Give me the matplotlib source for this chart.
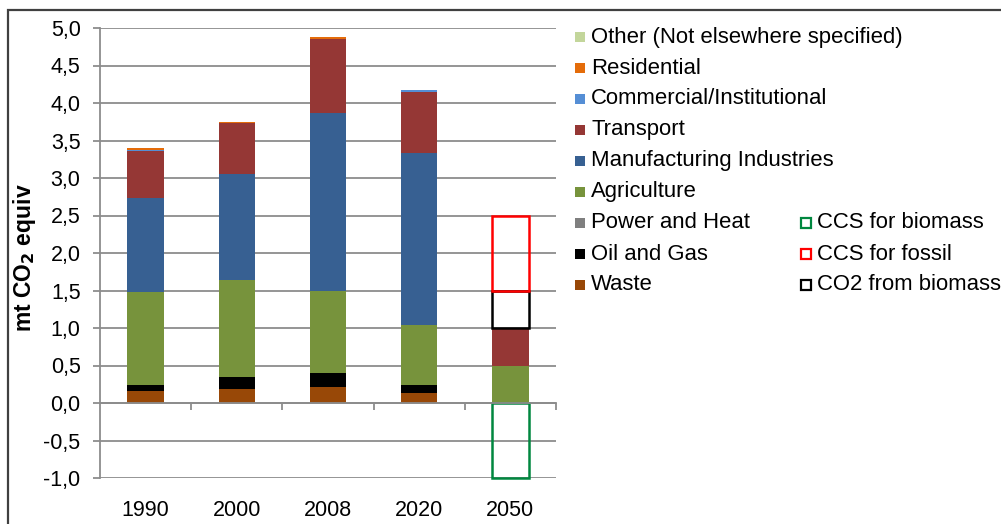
import matplotlib
matplotlib.use("Agg")
import matplotlib.pyplot as plt
import numpy as np
from matplotlib.patches import Rectangle
from matplotlib.ticker import FuncFormatter, MultipleLocator

plt.rcParams["font.family"] = ["Liberation Sans", "DejaVu Sans"]

# Emissions by sector, mt CO2 equivalent
years = ["1990", "2000", "2008", "2020", "2050"]
waste = [0.16, 0.19, 0.21, 0.13, 0.0]
oil_and_gas = [0.08, 0.16, 0.19, 0.115, 0.0]
power_and_heat = [0.0, 0.0, 0.0, 0.0, 0.0]
agriculture = [1.245, 1.295, 1.10, 0.795, 0.5]
manufacturing = [1.255, 1.405, 2.37, 2.29, 0.0]
transport = [0.62, 0.68, 0.98, 0.82, 0.5]
commercial = [0.015, 0.003, 0.01, 0.02, 0.0]
residential = [0.02, 0.02, 0.015, 0.0, 0.0]
other = [0.0, 0.0, 0.0, 0.0, 0.0]

# 2050 scenario components (drawn as outlined boxes)
co2_from_biomass = [0.0, 0.0, 0.0, 0.0, 0.5]
ccs_for_fossil = [0.0, 0.0, 0.0, 0.0, 1.0]
ccs_for_biomass = [0.0, 0.0, 0.0, 0.0, -1.0]

stack = [
    ("Waste", waste, "#984807"),
    ("Oil and Gas", oil_and_gas, "#000000"),
    ("Power and Heat", power_and_heat, "#7F7F7F"),
    ("Agriculture", agriculture, "#77933C"),
    ("Manufacturing Industries", manufacturing, "#376092"),
    ("Transport", transport, "#953735"),
    ("Commercial/Institutional", commercial, "#558ED5"),
    ("Residential", residential, "#E46C0A"),
    ("Other (Not elsewhere specified)", other, "#C3D69B"),
]
outlines = [
    ("CCS for biomass", "#00873F"),
    ("CCS for fossil", "#FF0000"),
    ("CO2 from biomass", "#000000"),
]

FS = 15.5
FS_LEG = 15.9
W, H = 1001, 524
fig = plt.figure(figsize=(W / 100, H / 100), dpi=100)
ax = fig.add_axes([100 / W, 1 - 478 / H, (556 - 100) / W, (478 - 28) / H])

x = np.arange(len(years))
bw = 0.40
bottom = np.zeros(len(years))
for name, vals, col in stack:
    v = np.array(vals)
    ax.bar(x, v, bw, bottom=bottom, color=col, edgecolor="none", zorder=3)
    bottom += v

# Outlined 2050 components
lw = 1.8
b = bottom.copy()
v = np.array(co2_from_biomass)
m = v != 0
ax.bar(x[m], v[m], bw, bottom=b[m], facecolor="none", edgecolor="#000000", linewidth=lw,
       zorder=4, clip_on=False)
b += v
v = np.array(ccs_for_fossil)
m = v != 0
ax.bar(x[m], v[m], bw, bottom=b[m], facecolor="none", edgecolor="#FF0000", linewidth=lw,
       zorder=4, clip_on=False)
v = np.array(ccs_for_biomass)
m = v != 0
ax.bar(x[m], v[m], bw, facecolor="none", edgecolor="#00873F", linewidth=lw, zorder=4,
       clip_on=False)

grid_col = "#8C8C8C"
ax.set_xlim(-0.5, len(years) - 0.5)
ax.set_ylim(-1.0, 5.0)
ax.yaxis.set_major_locator(MultipleLocator(0.5))
ax.yaxis.set_major_formatter(FuncFormatter(lambda v, p: f"{v:.1f}".replace(".", ",").replace("-0,0", "0,0")))
ax.grid(axis="y", color=grid_col, linewidth=1.3, zorder=0)
ax.set_axisbelow(True)
for s in ["top", "right"]:
    ax.spines[s].set_visible(False)
ax.spines["left"].set_color(grid_col)
ax.spines["left"].set_linewidth(1.3)
ax.spines["bottom"].set_position(("data", 0))
ax.spines["bottom"].set_color(grid_col)
ax.spines["bottom"].set_linewidth(1.3)
ax.spines["bottom"].set_zorder(5)
ax.tick_params(axis="y", length=5, width=1.3, color=grid_col, pad=9, labelsize=FS)
ax.set_xticks(list(x - 0.5)[1:] + [len(years) - 0.5])
ax.tick_params(axis="x", length=5, width=1.3, color=grid_col, labelbottom=False)

sec = ax.secondary_xaxis("bottom")
sec.set_xticks(x)
sec.set_xticklabels(years)
sec.tick_params(length=0, pad=16, labelsize=FS)
sec.spines["bottom"].set_visible(False)

fig.text(25 / W, 1 - 258 / H, r"mt CO$_\mathbf{2}$ equiv", rotation=90, ha="center", va="center",
         fontsize=16.5, fontweight="bold")

# Legend, drawn in figure pixels
def px(xp, yp):
    return xp / W, 1 - yp / H

row_y = [37 + 31 * i for i in range(9)]
for (name, vals, col), yc in zip(reversed(stack), row_y):
    x0, y0 = px(575, yc + 5)
    fig.add_artist(Rectangle((x0, y0), 10 / W, 10 / H, transform=fig.transFigure,
                             facecolor=col, edgecolor="none"))
    tx, ty = px(591, yc)
    fig.text(tx, ty, name, fontsize=FS_LEG, va="center", ha="left")

for (name, col), yc in zip(outlines, row_y[6:]):
    x0, y0 = px(801, yc + 5)
    fig.add_artist(Rectangle((x0, y0), 10 / W, 10 / H, transform=fig.transFigure,
                             facecolor="none", edgecolor=col, linewidth=1.6))
    tx, ty = px(817, yc)
    fig.text(tx, ty, name, fontsize=FS_LEG, va="center", ha="left")

# Chart frame
fig.add_artist(Rectangle((8 / W, -0.1), 1.2, 1 - 10 / H + 0.1, transform=fig.transFigure,
                         facecolor="none", edgecolor="#404040", linewidth=1.6, clip_on=False))

fig.savefig("out.png", dpi=100)
